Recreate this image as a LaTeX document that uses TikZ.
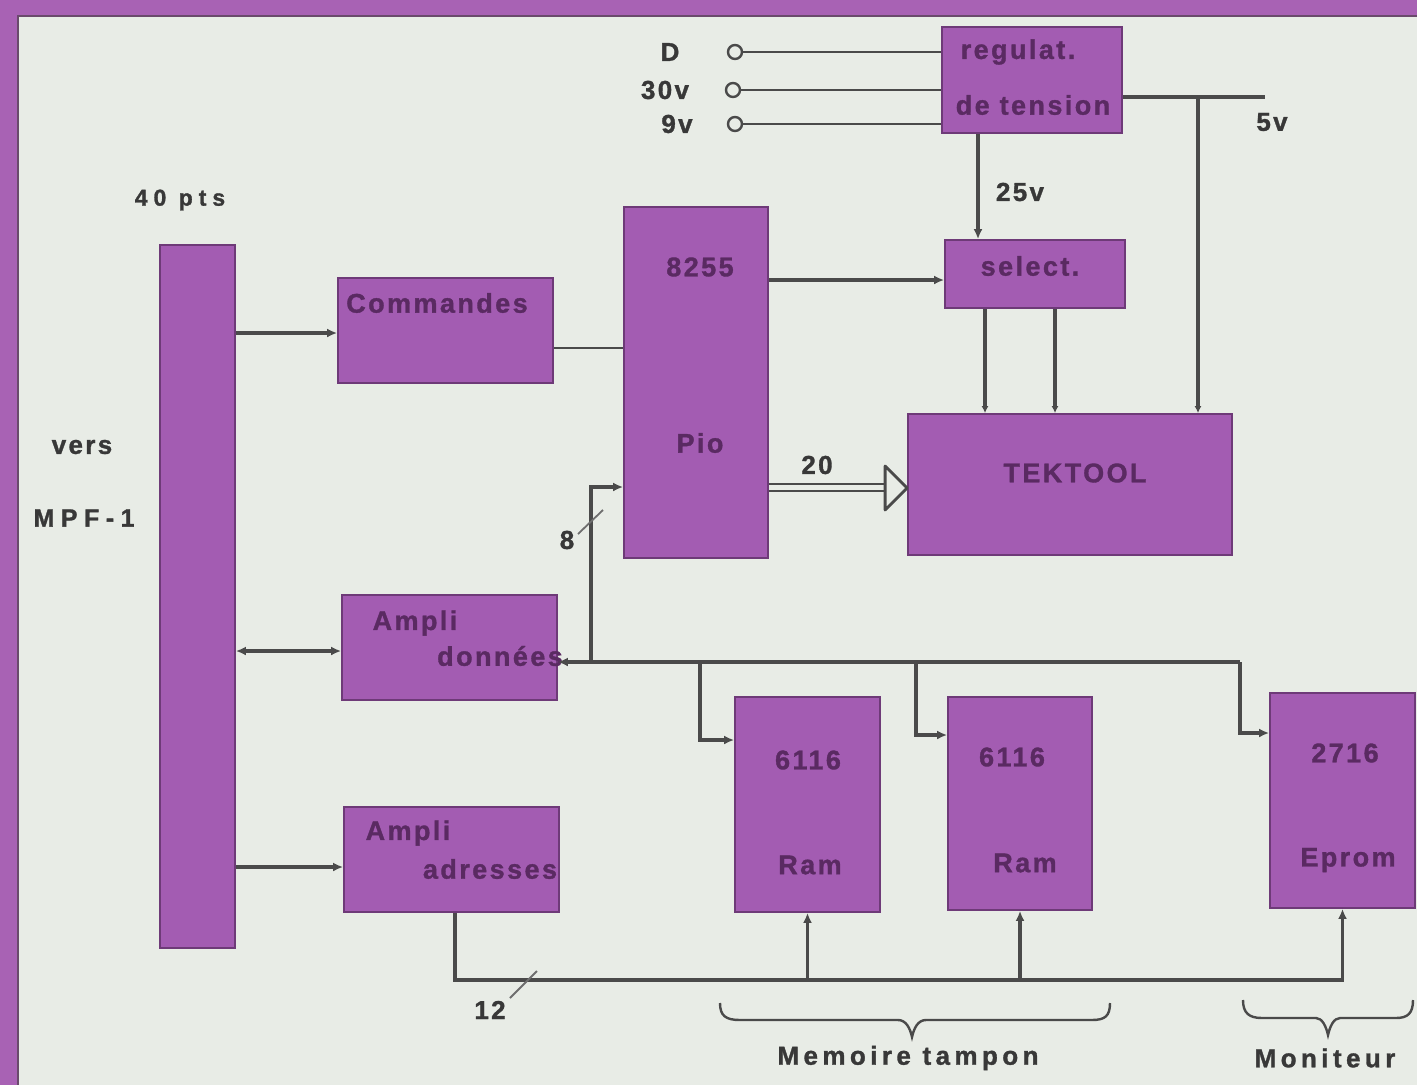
\documentclass[tikz,border=0pt]{standalone}
\usepackage{fontspec}
\newfontfamily\labfont{Liberation Sans}[LetterSpace=9,BoldFeatures={FakeBold=1.2}]
\newfontfamily\widefont{Liberation Sans}[LetterSpace=17,BoldFeatures={FakeBold=1.2}]
\newfontfamily\xwidefont{Liberation Sans}[LetterSpace=26,BoldFeatures={FakeBold=1.2}]
\usetikzlibrary{arrows.meta,calc}
\definecolor{bg}{HTML}{E8ECE6}
\definecolor{boxfill}{HTML}{A35CB2}
\definecolor{boxedge}{HTML}{6E3A78}
\definecolor{framec}{HTML}{A862B4}
\definecolor{framedark}{HTML}{6A4A6C}
\definecolor{wire}{HTML}{4A4A4A}
\definecolor{intext}{HTML}{5A2A62}
\definecolor{outtext}{HTML}{383838}
\begin{document}
\begin{tikzpicture}[x=1pt,y=-1pt,
  blk/.style={draw=boxedge,line width=1.8pt,fill=boxfill,inner sep=0pt},
  inlab/.style={text=intext,font=\labfont\bfseries\fontsize{27}{30}\selectfont,inner sep=0pt},
  outlab/.style={text=outtext,font=\labfont\bfseries\fontsize{26}{30}\selectfont,inner sep=0pt},
  widelab/.style={text=outtext,font=\widefont\bfseries\fontsize{26}{30}\selectfont,inner sep=0pt},
  xwidelab/.style={text=outtext,font=\xwidefont\bfseries\fontsize{25}{30}\selectfont,inner sep=0pt},
  smalllab/.style={text=outtext,font=\xwidefont\bfseries\fontsize{23}{26}\selectfont,inner sep=0pt},
  wirel/.style={draw=wire,line width=3.2pt},
  thinw/.style={draw=wire,line width=2.4pt},
  tip/.style={wirel,-{Latex[length=10pt,width=9pt]}},
  smalltip/.style={wirel,-{Latex[length=7pt,width=7pt]}},
  bitip/.style={wirel,{Latex[length=10pt,width=9pt]}-{Latex[length=10pt,width=9pt]}},
  revtip/.style={wirel,{Latex[length=10pt,width=9pt]}-},
  inpin/.style={circle,draw=wire,line width=2.4pt,fill=bg,minimum size=14pt,inner sep=0pt},
  bracel/.style={draw=wire,line width=2.4pt},
  tick/.style={draw=wire!80,line width=1.8pt}
]
\useasboundingbox (0,0) rectangle (1417,1085);
\fill[bg] (0,0) rectangle (1417,1085);
% frame
\fill[framec] (0,0) rectangle (1417,16);
\fill[framec] (0,0) rectangle (17,1085);
\draw[framedark,line width=2pt] (17,16) -- (1417,16);
\draw[framedark,line width=2pt] (18,16) -- (18,1085);

% blocks
\node[blk,minimum width=75pt,minimum height=703pt] (bus) at (197.5,596.5) {};
\node[blk,minimum width=215pt,minimum height=105pt] (cmd) at (445.5,330.5) {};
\node[blk,minimum width=215pt,minimum height=105pt] (ampd) at (449.5,647.5) {};
\node[blk,minimum width=215pt,minimum height=105pt] (ampa) at (451.5,859.5) {};
\node[blk,minimum width=144pt,minimum height=351pt] (pio) at (696,382.5) {};
\node[blk,minimum width=180pt,minimum height=106pt] (reg) at (1032,80) {};
\node[blk,minimum width=180pt,minimum height=68pt] (sel) at (1035,274) {};
\node[blk,minimum width=324pt,minimum height=141pt] (tek) at (1070,484.5) {};
\node[blk,minimum width=145pt,minimum height=215pt] (ram1) at (807.5,804.5) {};
\node[blk,minimum width=144pt,minimum height=213pt] (ram2) at (1020,803.5) {};
\node[blk,minimum width=145pt,minimum height=215pt] (eprom) at (1342.5,800.5) {};

% labels inside blocks
\node[inlab] (tcmd) at (437,303) {Commandes};
\node[inlab] (tampd1) at (415,623) {Ampli};
\node[inlab] (tampd2) at (500,656) {données};
\node[inlab] (tampa1) at (408,833) {Ampli};
\node[inlab] (tampa2) at (490,869) {adresses};
\node[inlab] (tpio1) at (700,267) {8255};
\node[inlab] (tpio2) at (700,443) {Pio};
\node[inlab] (treg1) at (1018,52) {regulat.};
\node[inlab] (treg2) at (1033,105) {de tension};
\node[inlab] (tsel) at (1030,266) {select.};
\node[inlab] (ttek) at (1075,473) {TEKTOOL};
\node[inlab] (tr1a) at (808,760) {6116};
\node[inlab] (tr1b) at (810,865) {Ram};
\node[inlab] (tr2a) at (1012,757) {6116};
\node[inlab] (tr2b) at (1025,863) {Ram};
\node[inlab] (tepa) at (1345,753) {2716};
\node[inlab] (tepb) at (1348,860) {Eprom};

% outside labels
\node[smalllab] (l40) at (180,200) {40 pts};
\node[outlab] (lvers) at (82,447) {vers};
\node[xwidelab] (lmpf) at (84,518) {MPF-1};
\node[outlab] (lD) at (670,52) {D};
\node[outlab] (l30) at (665,90) {30v};
\node[outlab] (l9) at (677,124) {9v};
\node[outlab] (l25) at (1020,192) {25v};
\node[outlab] (l5) at (1272,122) {5v};
\node[outlab] (l20) at (817,465) {20};
\node[outlab] (l8) at (567,540) {8};
\node[outlab] (l12) at (490,1010) {12};
\node[widelab] (lmem) at (908,1058) {Memoire tampon};
\node[widelab] (lmon) at (1325,1058) {Moniteur};

% input pins
\node[inpin] (inD) at (735,52) {};
\node[inpin] (in30) at (733,90) {};
\node[inpin] (in9) at (735,124) {};
\draw[thinw] (inD) -- (reg.west |- inD);
\draw[thinw] (in30) -- (reg.west |- in30);
\draw[thinw] (in9) -- (reg.west |- in9);

% 5v rail
\coordinate (v5end) at (1265,97);
\coordinate (j5) at (1198,97);
\draw[wirel] (reg.east |- v5end) -- (v5end);
\draw[smalltip] (j5) -- (tek.north -| j5);

% 25v
\draw[tip] (reg.south -| 978,0) -- (sel.north -| 978,0);
% select -> tektool
\draw[smalltip] (sel.south -| 985,0) -- (tek.north -| 985,0);
\draw[smalltip] (sel.south -| 1055,0) -- (tek.north -| 1055,0);
% 8255 -> select
\draw[tip] (pio.east |- 0,280) -- (sel.west |- 0,280);

% bus connections
\draw[tip] (bus.east |- 0,333) -- (cmd.west |- 0,333);
\draw[thinw] (cmd.east |- 0,348) -- (pio.west |- 0,348);
\draw[bitip] (bus.east |- 0,651) -- (ampd.west |- 0,651);
\draw[tip] (bus.east |- 0,867) -- (ampa.west |- 0,867);

% data bus
\coordinate (jA) at (591,662);
\coordinate (jR1) at (700,662);
\coordinate (jR2) at (916,662);
\coordinate (jE) at (1240,662);
\draw[revtip] (ampd.east |- jA) -- (jE);
\draw[tip] (jA) |- (pio.west |- 0,487);
\draw[tip] (jR1) |- (ram1.west |- 0,740);
\draw[tip] (jR2) |- (ram2.west |- 0,735);
\draw[tip] (jE) |- (eprom.west |- 0,733);
\draw[tick] (578,534) -- (603,510);

% pio -> tektool (20 lines)
\draw[wirel,line width=2.4pt] (pio.east |- 0,484) -- (890,484);
\draw[wirel,line width=2.4pt] (pio.east |- 0,491) -- (890,491);
\draw[wirel,line width=2.8pt,fill=bg,line join=round] (tek.west |- 0,488) -- ++(-22,-22) -- ++(0,44) -- cycle;

% address bus
\coordinate (jAd) at (455,980);
\draw[tip] (ampa.south -| jAd) |- (eprom.south |- 0,980) -- (eprom.south);
\draw[tip] (ram1.south |- 0,980) -- (ram1.south);
\draw[tip] (ram2.south |- 0,980) -- (ram2.south);
\draw[tick] (510,998) -- (537,971);

% braces
\draw[bracel] (720,1003) .. controls (720,1016) and (726,1020) .. (740,1020) -- (898,1020) .. controls (906,1020) and (910,1028) .. (912,1037) .. controls (914,1028) and (918,1020) .. (926,1020) -- (1092,1020) .. controls (1105,1020) and (1110,1016) .. (1110,1003);
\draw[bracel] (1243,1000) .. controls (1243,1013) and (1249,1018) .. (1262,1018) -- (1316,1018) .. controls (1322,1018) and (1326,1026) .. (1328,1035) .. controls (1330,1026) and (1334,1018) .. (1340,1018) -- (1396,1018) .. controls (1408,1018) and (1413,1013) .. (1413,1000);
\end{tikzpicture}
\end{document}
